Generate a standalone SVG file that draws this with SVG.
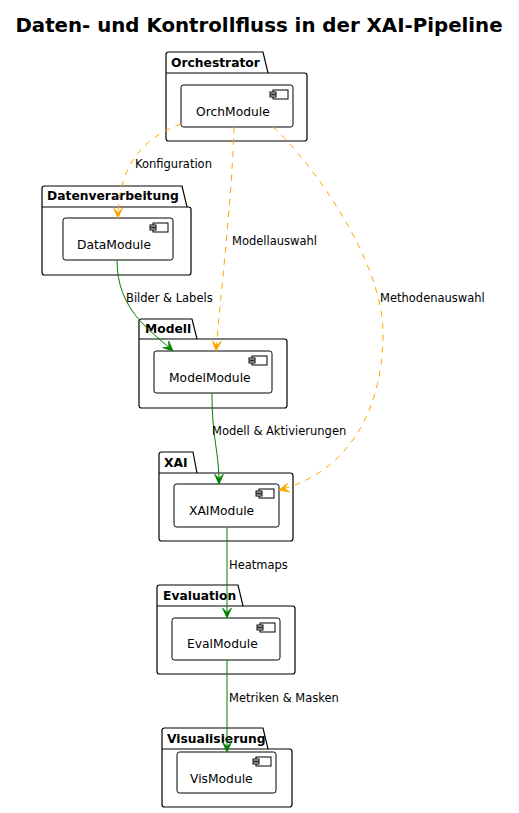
<svg xmlns="http://www.w3.org/2000/svg" xmlns:xlink="http://www.w3.org/1999/xlink" width="519" height="813" viewBox="0 0 519 813">
  <style>
    .title { font-family: "DejaVu Sans", Verdana, sans-serif; font-weight: bold; font-size: 19.8px; fill: #000; }
    .pkg { fill: #fff; stroke: #000; stroke-width: 1.2; }
    .pkg-name { font-family: "DejaVu Sans", Verdana, sans-serif; font-weight: bold; font-size: 12.3px; fill: #000; }
    .mod { fill: #fff; stroke: #000; stroke-width: 1; }
    .mod-name { font-family: "DejaVu Sans", Verdana, sans-serif; font-size: 12.3px; fill: #000; }
    .lbl { font-family: "DejaVu Sans", Verdana, sans-serif; font-size: 11.5px; fill: #000; }
    .ctrl { fill: none; stroke: #FFA500; stroke-width: 1; stroke-dasharray: 6 6; marker-end: url(#arrow-ctrl); }
    .data { fill: none; stroke: #008000; stroke-width: 1; marker-end: url(#arrow-data); }
    .icon { fill: #fff; stroke: #000; stroke-width: 1; }
  </style>
  <defs>
    <marker id="arrow-ctrl" markerUnits="userSpaceOnUse" markerWidth="12" markerHeight="12" viewBox="-10 -5 11 10" refX="0" refY="0" orient="auto">
      <path d="M0,0 L-9,-4 L-5,0 L-9,4 Z" fill="#FFA500" stroke="#FFA500" stroke-width="0.8"/>
    </marker>
    <marker id="arrow-data" markerUnits="userSpaceOnUse" markerWidth="12" markerHeight="12" viewBox="-10 -5 11 10" refX="0" refY="0" orient="auto">
      <path d="M0,0 L-9,-4 L-5,0 L-9,4 Z" fill="#008000" stroke="#008000" stroke-width="0.8"/>
    </marker>
    <!-- component glyph: body with two small tabs on its left side -->
    <g id="comp-icon">
      <rect class="icon" x="0" y="0" width="15" height="9"/>
      <rect class="icon" x="-3" y="2" width="6" height="2"/>
      <rect class="icon" x="-3" y="5" width="6" height="2"/>
    </g>
  </defs>

  <rect width="519" height="813" fill="#fff"/>

  <text class="title" x="259" y="32" text-anchor="middle">Daten- und Kontrollfluss in der XAI-Pipeline</text>

  <!-- Orchestrator -->
  <g id="pkg-orchestrator">
    <path class="pkg" d="M166,54.5 Q166,52 168.5,52 L263,52 L268,73 L304.5,73 Q307,73 307,75.5 L307,138.5 Q307,141 304.5,141 L168.5,141 Q166,141 166,138.5 Z"/>
    <line class="pkg" x1="166" y1="73" x2="268" y2="73"/>
    <text class="pkg-name" x="171" y="67">Orchestrator</text>
  </g>
  <g id="orch-module">
    <rect class="mod" x="181" y="85" width="112" height="42" rx="2.5"/>
    <use xlink:href="#comp-icon" x="273" y="90"/>
    <text class="mod-name" x="196" y="116">OrchModule</text>
  </g>

  <!-- Datenverarbeitung -->
  <g id="pkg-datenverarbeitung">
    <path class="pkg" d="M42,188.5 Q42,186 44.5,186 L182,186 L187,207 L188.5,207 Q191,207 191,209.5 L191,272.5 Q191,275 188.5,275 L44.5,275 Q42,275 42,272.5 Z"/>
    <line class="pkg" x1="42" y1="207" x2="187" y2="207"/>
    <text class="pkg-name" x="47" y="200">Datenverarbeitung</text>
  </g>
  <g id="data-module">
    <rect class="mod" x="63" y="218" width="110" height="42" rx="2.5"/>
    <use xlink:href="#comp-icon" x="153" y="223"/>
    <text class="mod-name" x="77" y="249">DataModule</text>
  </g>

  <!-- Modell -->
  <g id="pkg-modell">
    <path class="pkg" d="M139,321.5 Q139,319 141.5,319 L192,319 L197,339 L284.5,339 Q287,339 287,341.5 L287,405.5 Q287,408 284.5,408 L141.5,408 Q139,408 139,405.5 Z"/>
    <line class="pkg" x1="139" y1="339" x2="197" y2="339"/>
    <text class="pkg-name" x="145" y="333">Modell</text>
  </g>
  <g id="model-module">
    <rect class="mod" x="154" y="351" width="118" height="42" rx="2.5"/>
    <use xlink:href="#comp-icon" x="252" y="356"/>
    <text class="mod-name" x="169" y="382">ModelModule</text>
  </g>

  <!-- XAI -->
  <g id="pkg-xai">
    <path class="pkg" d="M159,454.5 Q159,452 161.5,452 L193,452 L197,473 L290.5,473 Q293,473 293,475.5 L293,538.5 Q293,541 290.5,541 L161.5,541 Q159,541 159,538.5 Z"/>
    <line class="pkg" x1="159" y1="473" x2="197" y2="473"/>
    <text class="pkg-name" x="164" y="467">XAI</text>
  </g>
  <g id="xai-module">
    <rect class="mod" x="174" y="484" width="105" height="43" rx="2.5"/>
    <use xlink:href="#comp-icon" x="259" y="489"/>
    <text class="mod-name" x="189" y="515">XAIModule</text>
  </g>

  <!-- Evaluation -->
  <g id="pkg-evaluation">
    <path class="pkg" d="M157,587.5 Q157,585 159.5,585 L238,585 L243,606 L292.5,606 Q295,606 295,608.5 L295,671.5 Q295,674 292.5,674 L159.5,674 Q157,674 157,671.5 Z"/>
    <line class="pkg" x1="157" y1="606" x2="243" y2="606"/>
    <text class="pkg-name" x="163" y="600">Evaluation</text>
  </g>
  <g id="eval-module">
    <rect class="mod" x="172" y="618" width="108" height="42" rx="2.5"/>
    <use xlink:href="#comp-icon" x="260" y="623"/>
    <text class="mod-name" x="187" y="648">EvalModule</text>
  </g>

  <!-- Visualisierung -->
  <g id="pkg-visualisierung">
    <path class="pkg" d="M162,730.5 Q162,728 164.5,728 L263,728 L268,749 L289.5,749 Q292,749 292,751.5 L292,804.5 Q292,807 289.5,807 L164.5,807 Q162,807 162,804.5 Z"/>
    <line class="pkg" x1="162" y1="749" x2="268" y2="749"/>
    <text class="pkg-name" x="167" y="743">Visualisierung</text>
  </g>
  <g id="vis-module">
    <rect class="mod" x="177" y="752" width="99" height="41" rx="2.5"/>
    <use xlink:href="#comp-icon" x="256" y="757"/>
    <text class="mod-name" x="190" y="783">VisModule</text>
  </g>

  <!-- connectors: orange dashed = control flow, green solid = data flow -->
  <g id="connectors">
    <path class="ctrl" d="M181,124 C150,135 118,160 118,218"/>
    <text class="lbl" x="135" y="168">Konfiguration</text>

    <path class="ctrl" d="M234,127 C232,200 220,300 216,351"/>
    <text class="lbl" x="232" y="245">Modellauswahl</text>

    <path class="ctrl" d="M273,127 C310,160 383,260 383,333 C383,420 340,475 279,490"/>
    <text class="lbl" x="380" y="302">Methodenauswahl</text>

    <path class="data" d="M117,260 C117,310 150,330 173,351"/>
    <text class="lbl" x="126" y="302">Bilder &amp; Labels</text>

    <path class="data" d="M212,393 C212,440 219,450 219,484"/>
    <text class="lbl" x="212" y="435">Modell &amp; Aktivierungen</text>

    <path class="data" d="M227,527 L227,618"/>
    <text class="lbl" x="229" y="569">Heatmaps</text>

    <path class="data" d="M227,660 L227,752"/>
    <text class="lbl" x="229" y="702">Metriken &amp; Masken</text>
  </g>
</svg>
